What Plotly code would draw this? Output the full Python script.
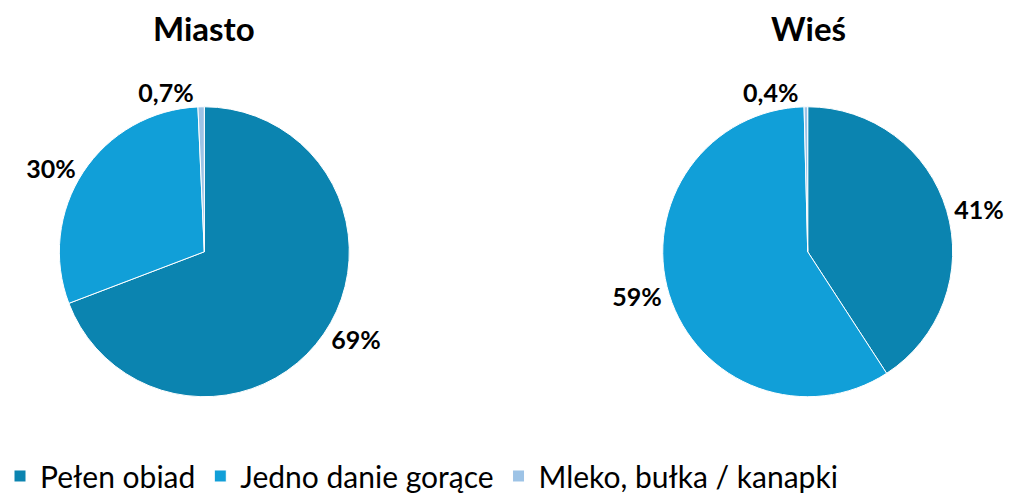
import plotly.graph_objects as go

categories = ["Pełen obiad", "Jedno danie gorące", "Mleko, bułka / kanapki"]
miasto_values = [69, 30, 0.7]
wies_values = [41, 59, 0.4]
miasto_labels = ["69%", "30%", "0,7%"]
wies_labels = ["41%", "59%", "0,4%"]
colors = ["#0B84B0", "#119FD8", "#9DC3E6"]

FONT = "Lato"

common = dict(
    textinfo="text", textposition="outside", sort=False,
    direction="clockwise", rotation=0,
    marker=dict(colors=colors, line=dict(color="white", width=1)),
    textfont=dict(family=FONT, size=25, color="black", weight="bold"),
    hoverinfo="label+text", automargin=False,
)

fig = go.Figure()
fig.add_trace(go.Pie(
    labels=categories, values=miasto_values, text=miasto_labels,
    domain=dict(x=[0.0, 0.405], y=[0.205, 0.786]),
    showlegend=True, **common,
))
fig.add_trace(go.Pie(
    labels=categories, values=wies_values, text=wies_labels,
    domain=dict(x=[0.601, 1.0], y=[0.205, 0.786]),
    showlegend=False, **common,
))

fig.update_layout(
    width=1009, height=499,
    margin=dict(l=0, r=0, t=0, b=0, autoexpand=False),
    paper_bgcolor="white", plot_bgcolor="white",
    font=dict(family=FONT, color="black"),
    legend=dict(orientation="h", x=0.0, y=-0.006, xanchor="left", yanchor="bottom",
                font=dict(family=FONT, size=30, color="black"),
                tracegroupgap=0),
    annotations=[
        dict(text="<b>Miasto</b>", x=0.202, y=0.944, xref="paper", yref="paper",
             xanchor="center", yanchor="middle",
             showarrow=False, font=dict(family=FONT, size=33, color="black")),
        dict(text="<b>Wieś</b>", x=0.801, y=0.944, xref="paper", yref="paper",
             xanchor="center", yanchor="middle",
             showarrow=False, font=dict(family=FONT, size=33, color="black")),
    ],
)

fig.write_html(
    "out.html",
    config={"displayModeBar": False},
    post_script="document.body.style.margin='0';document.body.style.overflow='hidden';",
)
